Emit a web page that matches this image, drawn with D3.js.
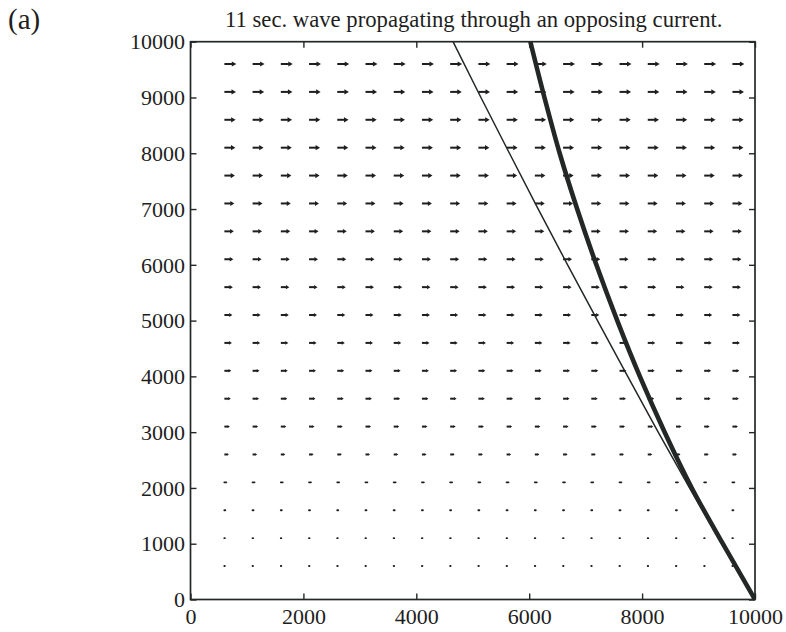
<!DOCTYPE html>
<html><head><meta charset="utf-8">
<script src="https://cdn.jsdelivr.net/npm/d3@7"></script>
<style>body{margin:0;background:#fff} svg{display:block}</style>
</head><body><svg id="c" width="786" height="632"></svg>
<script>
const panelLabel = "(a)";
const titleText = "11 sec. wave propagating through an opposing current.";
const xTicks = [0, 2000, 4000, 6000, 8000, 10000];
const yTicks = [0, 1000, 2000, 3000, 4000, 5000, 6000, 7000, 8000, 9000, 10000];
const gridX = [600, 1100, 1600, 2100, 2600, 3100, 3600, 4100, 4600, 5100, 5600, 6100, 6600, 7100, 7600, 8100, 8600, 9100, 9600];
const gridY = [600, 1100, 1600, 2100, 2600, 3100, 3600, 4100, 4600, 5100, 5600, 6100, 6600, 7100, 7600, 8100, 8600, 9100, 9600];
// current speed per row (m/s), opposing the wave (pointing +x)
const currentU = [0.12, 0.17, 0.21, 0.29, 0.38, 0.46, 0.54, 0.58, 0.63, 0.67, 0.71, 0.75, 0.79, 0.83, 0.88, 0.92, 0.94, 0.97, 1.0];
const arrowScale = 212; // data units per m/s
// ray without current (thin)
const rayY = [0, 1000, 2000, 3000, 4000, 5000, 6000, 7000, 8000, 9000, 10000];
const rayNoCurrentX = [10000, 9415, 8840, 8285, 7745, 7210, 6680, 6160, 5650, 5145, 4650];
// ray with opposing current (thick)
const rayCurrentX = [10000, 9430, 8880, 8400, 7960, 7560, 7190, 6850, 6540, 6270, 6020];

const svg = d3.select("#c");
const L = 190.5, R = 755, T = 41.7, B = 599.5;
const x = d3.scaleLinear().domain([0, 10000]).range([L, R]);
const y = d3.scaleLinear().domain([0, 10000]).range([B, T]);
const ink = "#232826";
const serif = "'Liberation Serif','Times New Roman',serif";

svg.append("rect").attr("width", 786).attr("height", 632).attr("fill", "#fff");

// quiver
const qg = svg.append("g").attr("fill", "#1e1e1e").attr("stroke", "#1e1e1e");
gridY.forEach((gy, i) => {
  const u = currentU[i];
  gridX.forEach(gx => {
    const x0 = x(gx), x1 = x(gx + u * arrowScale), yy = y(gy);
    const len = x1 - x0;
    if (len < 3.5) {
      qg.append("line").attr("x1", x0).attr("x2", x0 + Math.max(len - 1.6, 0.4)).attr("y1", yy).attr("y2", yy)
        .attr("stroke-width", 1.9).attr("stroke-linecap", "round");
    } else {
      const hl = Math.min(4.5, len * 0.4), hw = Math.min(2.6, len * 0.25);
      qg.append("line").attr("x1", x0).attr("x2", x1 - hl + 0.5).attr("y1", yy).attr("y2", yy)
        .attr("stroke-width", 2);
      qg.append("path").attr("stroke", "none")
        .attr("d", `M${x1},${yy}L${x1 - hl},${yy - hw}L${x1 - hl},${yy + hw}Z`);
    }
  });
});

// rays
svg.append("defs").append("clipPath").attr("id", "pc").append("rect")
  .attr("x", L).attr("y", T).attr("width", R - L).attr("height", B - T);
const lineGen = d3.line().x(d => x(d[0])).y(d => y(d[1])).curve(d3.curveMonotoneY);
svg.append("path").attr("clip-path", "url(#pc)")
  .attr("d", lineGen(rayY.map((v, i) => [rayNoCurrentX[i], v])))
  .attr("fill", "none").attr("stroke", ink).attr("stroke-width", 1.5);
svg.append("path").attr("clip-path", "url(#pc)")
  .attr("d", lineGen(rayY.map((v, i) => [rayCurrentX[i], v])))
  .attr("fill", "none").attr("stroke", ink).attr("stroke-width", 4.6).attr("stroke-linejoin", "round");

// axes
const fs = 22;
const gB = svg.append("g").attr("transform", `translate(0,${B})`)
  .call(d3.axisBottom(x).tickValues(xTicks).tickFormat(d3.format("d")).tickSizeInner(-6).tickSizeOuter(0).tickPadding(9));
const gLft = svg.append("g").attr("transform", `translate(${L},0)`)
  .call(d3.axisLeft(y).tickValues(yTicks).tickFormat(d3.format("d")).tickSizeInner(-6).tickSizeOuter(0).tickPadding(5.5));
const gT = svg.append("g").attr("transform", `translate(0,${T})`)
  .call(d3.axisTop(x).tickValues(xTicks).tickFormat("").tickSizeInner(-6).tickSizeOuter(0));
const gR = svg.append("g").attr("transform", `translate(${R},0)`)
  .call(d3.axisRight(y).tickValues(yTicks).tickFormat("").tickSizeInner(-6).tickSizeOuter(0));
[gB, gLft, gT, gR].forEach(g => {
  g.select(".domain").remove();
  g.selectAll("line").attr("stroke", ink).attr("stroke-width", 1.4);
  g.selectAll("text").attr("font-family", serif).attr("font-size", fs).attr("fill", "#1e1e1e");
});
gLft.selectAll("text").attr("dy", "0.33em");

svg.append("rect").attr("x", L).attr("y", T).attr("width", R - L).attr("height", B - T)
  .attr("fill", "none").attr("stroke", ink).attr("stroke-width", 1.7);

// title
const tt = svg.append("text").attr("x", (L + R) / 2 + 1).attr("y", 27).attr("text-anchor", "middle")
  .attr("font-family", serif).attr("font-size", 17).attr("fill", "#1e1e1e").text(titleText);
const w = tt.node().getComputedTextLength();
tt.attr("font-size", 17 * 498 / w);

svg.append("text").attr("x", 8).attr("y", 29).attr("font-family", serif).attr("font-size", 29)
  .attr("fill", "#1e1e1e").text(panelLabel);
</script></body></html>
